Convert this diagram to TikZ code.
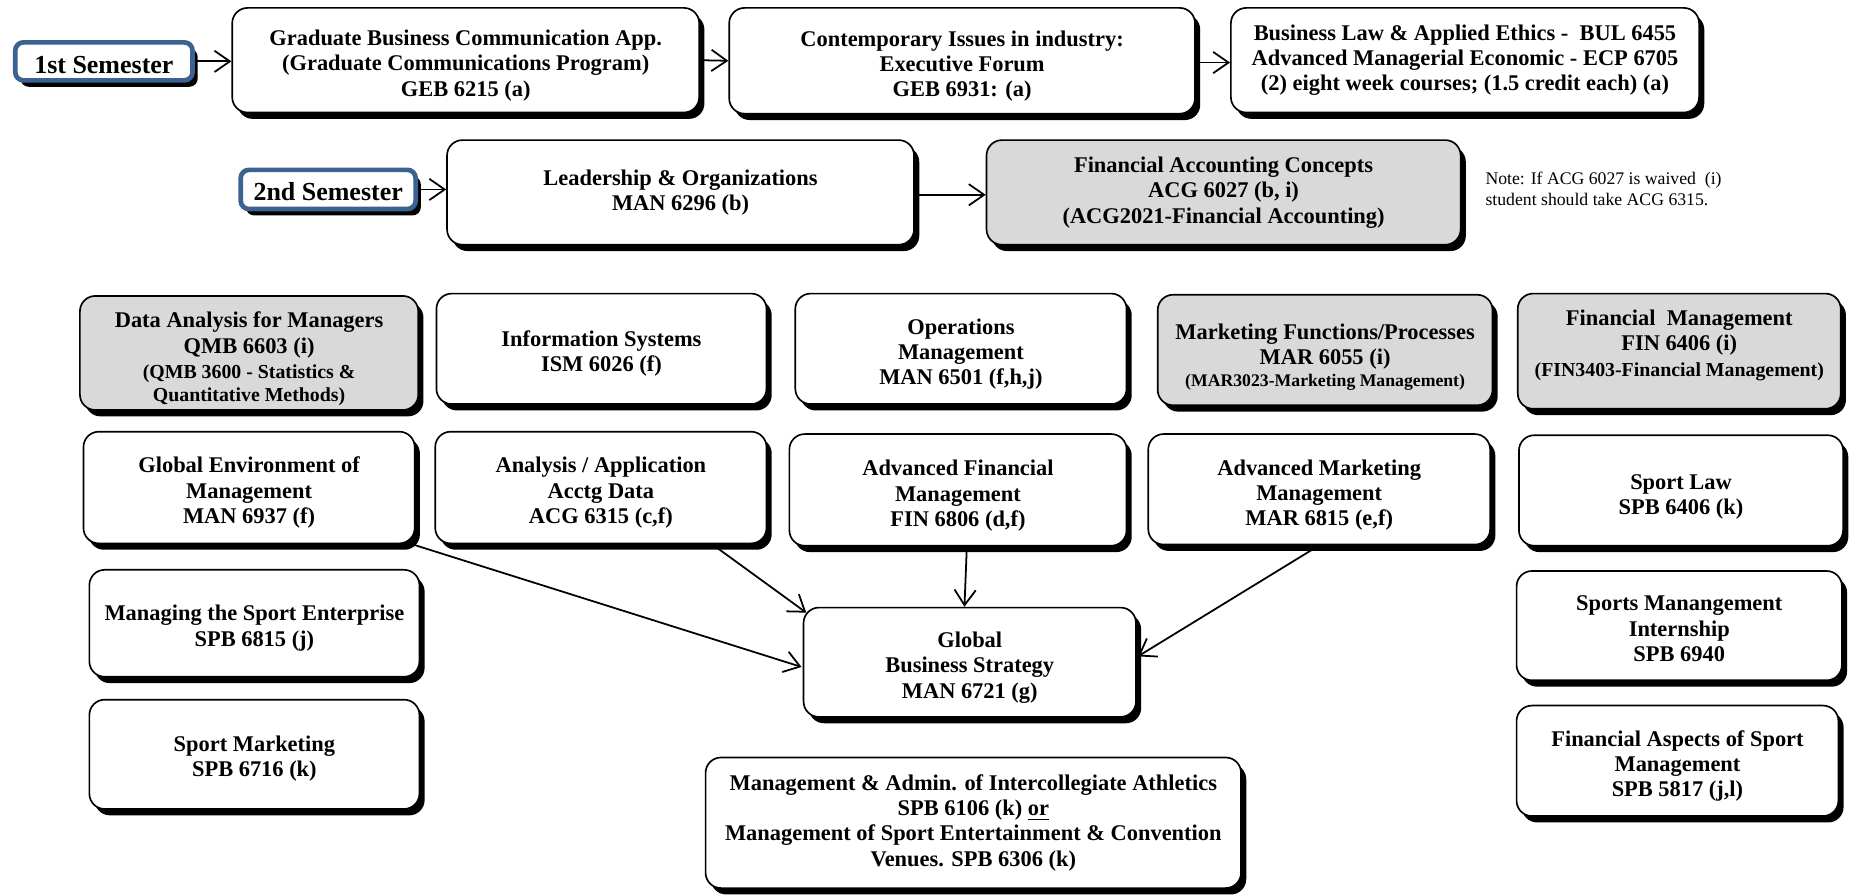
\documentclass[tikz,border=0pt]{standalone}
\usepackage{fontspec}
\setmainfont{Liberation Serif}
\usetikzlibrary{shadows,arrows.meta,calc}
\definecolor{semblue}{RGB}{59,98,145}
\definecolor{boxgray}{RGB}{217,217,217}
\newcommand{\myfontA}{\fontsize{8.4pt}{9.8pt}\selectfont}
\newcommand{\myfontB}{\fontsize{7.5pt}{9.5pt}\selectfont}
\newcommand{\mydn}[1]{\rule{0pt}{\dimexpr 6.6pt+#1pt\relax}}
\newcommand{\myup}[1]{\rule[-#1pt]{0pt}{#1pt}}
\begin{document}
\begin{tikzpicture}[x=0.5pt,y=-0.5pt,
  sz/.style 2 args={minimum width=#1*0.5pt, minimum height=#2*0.5pt},
  shad/.style={drop shadow={shadow xshift=2.2pt, shadow yshift=-2.7pt, fill=black, opacity=1}},
  box/.style={draw, line width=0.7pt, rounded corners=6.5pt, fill=white, align=center, inner sep=0pt,
    font=\fontsize{9.5pt}{10.75pt}\selectfont\bfseries, shad},
  gbox/.style={box, fill=boxgray},
  sem/.style={draw=semblue, line width=2pt, rounded corners=3.5pt, fill=white, inner sep=0pt,
    font=\fontsize{11pt}{13pt}\selectfont\bfseries, shad},
  arr/.style={line width=0.75pt, -{Straight Barb[length=6.5pt,width=9pt,line width=0.75pt]}},
  note/.style={align=left, inner sep=0pt, font=\fontsize{7.5pt}{9pt}\selectfont}
]
\useasboundingbox (0,0) rectangle (1568,758);

% semesters
\node[sem, sz={150.2}{32.2}] (sem1) at (88,52) {\rule{0pt}{10.5pt}1st Semester};
\node[sem, sz={148.2}{33.2}] (sem2) at (278,160.5) {\rule{0pt}{9.5pt}2nd Semester};

% first semester
\node[box, sz={395.6}{88.6}] (b1) at (394.5,51) {\mydn{4.5}Graduate Business Communication App.\\(Graduate Communications Program)\\GEB 6215 (a)};
\node[box, sz={394.6}{89.6}] (b2) at (815,51.5) {\mydn{4.5}Contemporary Issues in industry:\\Executive Forum\\GEB 6931: (a)};
\node[box, sz={396.6}{88.6}] (b3) at (1241,51) {Business Law \& Applied Ethics -\ \ BUL 6455\\Advanced Managerial Economic - ECP 6705\\(2) eight week courses; (1.5 credit each) (a)};

% second semester
\node[box, sz={395.6}{88.6}] (b4) at (576.5,163) {Leadership \& Organizations\\MAN 6296 (b)};
\node[gbox, sz={401.6}{88.6}] (b5) at (1036.5,163) {Financial Accounting Concepts\\ACG 6027 (b, i)\\(ACG2021-Financial Accounting)};
\node[note, anchor=north west] (nt) at (1258,145) {Note: If ACG 6027 is waived\ \ (i)\\student should take ACG 6315.};

% row 3
\node[gbox, sz={286.6}{96.6}] (da) at (211,299) {\mydn{5}Data Analysis for Managers\\QMB 6603 (i)\\\myfontA (QMB 3600 - Statistics \&\\[-1pt]\myfontA Quantitative Methods)};
\node[box, sz={279.6}{93.6}] (is) at (509.5,295.5) {\mydn{4}Information Systems\\ISM 6026 (f)};
\node[box, sz={280.6}{93.6}] (ops) at (814,295.5) {\mydn{4.5}Operations\\Management\\MAN 6501 (f,h,j)};
\node[gbox, sz={283.6}{93.6}] (mf) at (1122.5,296.5) {\mydn{6}Marketing Functions/Processes\\MAR 6055 (i)\\[-1.5pt]\myfontB (MAR3023-Marketing Management)};
\node[gbox, sz={273.6}{97.6}] (fm) at (1422.5,297.5) {Financial\ \ Management\\FIN 6406 (i)\\\myfontA (FIN3403-Financial Management)\myup{6.8}};

% row 4
\node[box, sz={280.6}{94.6}] (ge) at (211,413) {\mydn{4.5}Global Environment of\\Management\\MAN 6937 (f)};
\node[box, sz={280.6}{94.6}] (aa) at (509,413) {\mydn{4.5}Analysis / Application\\Acctg Data\\ACG 6315 (c,f)};
\node[box, sz={285.6}{94.6}] (af) at (811.5,415) {\mydn{5}Advanced Financial\\Management\\FIN 6806 (d,f)};
\node[box, sz={289.6}{93.6}] (am) at (1117.5,414.5) {\mydn{5}Advanced Marketing\\Management\\MAR 6815 (e,f)};
\node[box, sz={274.6}{93.6}] (sl) at (1424,415.5) {\mydn{5}Sport Law\\SPB 6406 (k)};

% lower rows
\node[box, sz={279.6}{90.6}] (ms) at (215.5,528) {\mydn{4}Managing the Sport Enterprise\\SPB 6815 (j)};
\node[box, sz={279.6}{92.6}] (sm) at (215.5,639) {\mydn{3.5}Sport Marketing\\SPB 6716 (k)};
\node[box, sz={281.6}{92.6}] (gbs) at (821.5,561) {\mydn{4.5}Global\\Business Strategy\\MAN 6721 (g)};
\node[box, sz={275.6}{92.6}] (si) at (1422.5,530) {\mydn{2.5}Sports Manangement\\Internship\\SPB 6940};
\node[box, sz={272.6}{93.6}] (fa) at (1421,644.5) {\mydn{4.5}Financial Aspects of Sport\\Management\\SPB 5817 (j,l)};
\node[box, sz={453.6}{110.6}] (ma) at (824.5,697) {Management \& Admin. of Intercollegiate Athletics\\SPB 6106 (k) \underline{or}\\Management of Sport Entertainment \& Convention\\Venues. SPB 6306 (k)};

% connectors
\draw[arr] (sem1.east) -- (sem1.east -| b1.west);
\draw[arr] (b1.east) -- (b2.west);
\draw[arr] ($(b2.east)+(0,1.5)$) -- ($(b3.west)+(0,2)$);
\draw[arr] (sem2.east) -- (sem2.east -| b4.west);
\draw[arr] ($(b4.east)+(0,2)$) -- ($(b5.west)+(0,2)$);

\draw[arr] ($(ge.south east)+(-3,0)$) -- ($(gbs.west)+(-1,4)$);
\draw[arr] (aa.-27) -- ($(gbs.north west)+(3,5)$);
\draw[arr] ($(af.south)+(7.5,0)$) -- ($(gbs.north)+(-4.5,0)$);
\draw[arr] (am.south) -- ($(gbs.east)+(1,-5)$);
\end{tikzpicture}
\end{document}
